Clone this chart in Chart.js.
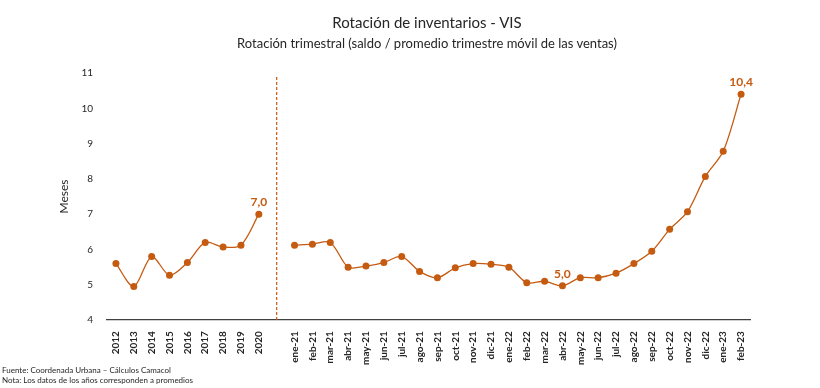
<!DOCTYPE html>
<html>
<head>
<meta charset="utf-8">
<script src="https://cdn.jsdelivr.net/npm/chart.js@4"></script>
<style>
  body { margin: 0; background: #fff; }
  #caja { position: relative; width: 820px; height: 388px; }
  #titulo { position: absolute; top: 13px; left: 227px; width: 400px; text-align: center;
    font-family: Lato, sans-serif; font-size: 15px; color: #262626; }
  #subtitulo { position: absolute; top: 35px; left: 127px; width: 600px; text-align: center;
    font-family: Lato, sans-serif; font-size: 13px; color: #262626; }
  #fuente { position: absolute; left: 2px; top: 365px; font-family: Lato, sans-serif;
    font-size: 8px; line-height: 10px; color: #262626; }
</style>
</head>
<body>
<div id="caja">
  <canvas id="grafico" width="820" height="388"></canvas>
  <div id="titulo">Rotación de inventarios - VIS</div>
  <div id="subtitulo">Rotación trimestral (saldo / promedio trimestre móvil de las ventas)</div>
  <div id="fuente">Fuente: Coordenada Urbana – Cálculos Camacol<br>Nota: Los datos de los años corresponden a promedios</div>
</div>
<script>
// Promedios anuales
const anios = ['2012', '2013', '2014', '2015', '2016', '2017', '2018', '2019', '2020'];
const rotacionAnual = [5.6, 4.95, 5.8, 5.27, 5.63, 6.2, 6.07, 6.12, 7.0];

// Meses desde enero 2021
const meses = ['ene-21', 'feb-21', 'mar-21', 'abr-21', 'may-21', 'jun-21', 'jul-21', 'ago-21', 'sep-21',
    'oct-21', 'nov-21', 'dic-21', 'ene-22', 'feb-22', 'mar-22', 'abr-22', 'may-22', 'jun-22',
    'jul-22', 'ago-22', 'sep-22', 'oct-22', 'nov-22', 'dic-22', 'ene-23', 'feb-23'];
const rotacionMensual = [6.12, 6.15, 6.2, 5.5, 5.53, 5.63, 5.8, 5.38, 5.2,
    5.48, 5.6, 5.58, 5.5, 5.06, 5.1, 4.97, 5.2, 5.2,
    5.33, 5.6, 5.95, 6.57, 7.07, 8.07, 8.78, 10.4];

const ticksY = [4, 5, 6, 7, 8, 9, 10, 11];

// Etiquetas que se muestran sobre los puntos
const etiquetasDestacadas = { '2020': '7,0', 'abr-22': '5,0', 'feb-23': '10,4' };

const naranja = '#C55A11';
const separador = '';

const categorias = [...anios, separador, ...meses];
const valores = [...rotacionAnual, null, ...rotacionMensual];

// Línea punteada en la categoría vacía + etiquetas de datos
const pluginExtras = {
    id: 'extras',
    afterDatasetsDraw(chart) {
        const ctx = chart.ctx;
        const x = chart.scales.x.getPixelForValue(anios.length);
        const area = chart.chartArea;
        ctx.save();
        ctx.strokeStyle = naranja;
        ctx.lineWidth = 1.2;
        ctx.setLineDash([3, 2]);
        ctx.beginPath();
        ctx.moveTo(x, area.top + 4);
        ctx.lineTo(x, area.bottom);
        ctx.stroke();
        ctx.setLineDash([]);

        const meta = chart.getDatasetMeta(0);
        ctx.fillStyle = naranja;
        ctx.font = 'bold 12px Lato, sans-serif';
        ctx.textAlign = 'center';
        ctx.textBaseline = 'bottom';
        categorias.forEach((c, i) => {
            if (etiquetasDestacadas[c]) {
                const p = meta.data[i];
                ctx.fillText(etiquetasDestacadas[c], p.x, p.y - 6);
            }
        });
        ctx.restore();
    }
};

new Chart(document.getElementById('grafico'), {
    type: 'line',
    data: {
        labels: categorias,
        datasets: [{
            data: valores,
            borderColor: naranja,
            backgroundColor: naranja,
            borderWidth: 1.3,
            pointRadius: 3.5,
            pointBackgroundColor: naranja,
            pointBorderWidth: 0,
            tension: 0.3,
            spanGaps: false,
        }]
    },
    options: {
        responsive: false,
        animation: false,
        layout: { padding: { top: 73, left: 53, right: 70, bottom: 20 } },
        plugins: {
            legend: { display: false },
            tooltip: { enabled: false },
        },
        scales: {
            x: {
                offset: true,
                grid: { display: false },
                border: { display: true, color: '#404040', width: 1.3 },
                ticks: {
                    autoSkip: false,
                    minRotation: 90,
                    maxRotation: 90,
                    color: '#262626',
                    font: { family: 'Lato, sans-serif', size: 10, weight: 'bold' },
                },
            },
            y: {
                min: 4,
                max: 11,
                afterBuildTicks(axis) { axis.ticks = ticksY.map(v => ({ value: v })); },
                grid: { display: false },
                border: { display: false },
                ticks: {
                    padding: 6,
                    color: '#262626',
                    font: { family: 'Lato, sans-serif', size: 10 },
                },
                title: {
                    display: true,
                    text: 'Meses',
                    color: '#262626',
                    font: { family: 'Lato, sans-serif', size: 12 },
                },
            },
        },
    },
    plugins: [pluginExtras],
});
</script>
</body>
</html>
